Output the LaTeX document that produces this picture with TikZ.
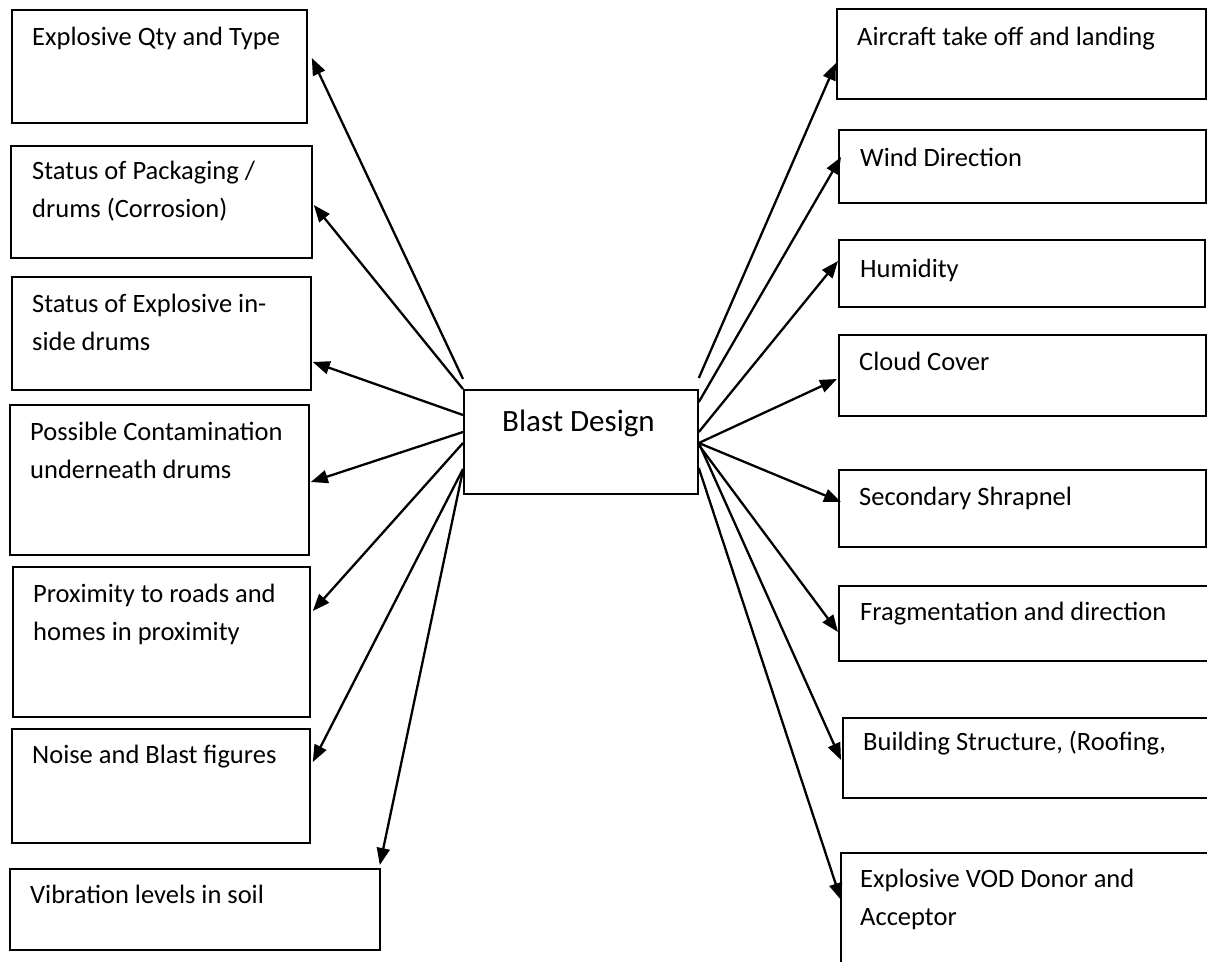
\documentclass[tikz,border=0pt]{standalone}
\usepackage{fontspec}
\setmainfont{Carlito}
\usetikzlibrary{arrows.meta,calc}

\begin{document}
\begin{tikzpicture}[x=1pt,y=-1pt,
  box/.style={draw, line width=1.8pt, rectangle, inner sep=0pt, anchor=north west},
  txt/.style={anchor=base west, inner sep=0pt, font=\fontsize{26.5}{38}\selectfont},
  link/.style={line width=2.3pt, -{Triangle[length=17pt,width=13pt]}}]

% canvas
\useasboundingbox (0,0) rectangle (1207,961);
\fill[white] (0,0) rectangle (1207,961);
\clip (0,0) rectangle (1207,961);

% central box
\node[box, minimum width=234pt, minimum height=104pt] (bd) at (463,389) {};
\node[anchor=base west, inner sep=0pt, font=\fontsize{31}{38}\selectfont] (bdt)
  at ($(bd.north west)+(39,42)$) {Blast Design};

% left column
\node[box, minimum width=295pt, minimum height=113pt] (qty)   at (11,9)   {};
\node[box, minimum width=301pt, minimum height=112pt] (pack)  at (10,145) {};
\node[box, minimum width=299pt, minimum height=113pt] (sexp)  at (11,276) {};
\node[box, minimum width=299pt, minimum height=150pt] (cont)  at (9,404)  {};
\node[box, minimum width=297pt, minimum height=150pt] (prox)  at (12,566) {};
\node[box, minimum width=298pt, minimum height=114pt] (noise) at (11,728) {};
\node[box, minimum width=370pt, minimum height=81pt]  (vib)   at (9,868)  {};

\node[txt] (qtyt)   at ($(qty.north west)+(21,36)$)   {Explosive Qty and Type};
\node[txt] (packa)  at ($(pack.north west)+(22,34)$)  {Status of Packaging /};
\node[txt] (packb)  at ($(pack.north west)+(22,72)$)  {drums (Corrosion)};
\node[txt] (sexpa)  at ($(sexp.north west)+(21,36)$)  {Status of Explosive in-};
\node[txt] (sexpb)  at ($(sexp.north west)+(21,74)$)  {side drums};
\node[txt] (conta)  at ($(cont.north west)+(21,36)$)  {Possible Contamination};
\node[txt] (contb)  at ($(cont.north west)+(21,74)$)  {underneath drums};
\node[txt] (proxa)  at ($(prox.north west)+(21,36)$)  {Proximity to roads and};
\node[txt] (proxb)  at ($(prox.north west)+(21,74)$)  {homes in proximity};
\node[txt] (noiset) at ($(noise.north west)+(21,35)$) {Noise and Blast figures};
\node[txt] (vibt)   at ($(vib.north west)+(21,35)$)   {Vibration levels in soil};

% right column
\node[box, minimum width=369pt, minimum height=90pt]  (air)   at (836,8)   {};
\node[box, minimum width=367pt, minimum height=73pt]  (wind)  at (838,129) {};
\node[box, minimum width=366pt, minimum height=67pt]  (hum)   at (838,239) {};
\node[box, minimum width=367pt, minimum height=81pt]  (cloud) at (838,334) {};
\node[box, minimum width=367pt, minimum height=77pt]  (sec)   at (838,469) {};
\node[box, minimum width=390pt, minimum height=75pt]  (frag)  at (838,585) {};
\node[box, minimum width=390pt, minimum height=80pt]  (bld)   at (842,717) {};
\node[box, minimum width=390pt, minimum height=150pt] (vod)   at (840,852) {};

\node[txt] (airt)   at ($(air.north west)+(21,37)$)   {Aircraft take off and landing};
\node[txt] (windt)  at ($(wind.north west)+(22,37)$)  {Wind Direction};
\node[txt] (humt)   at ($(hum.north west)+(22,38)$)   {Humidity};
\node[txt] (cloudt) at ($(cloud.north west)+(21,36)$) {Cloud Cover};
\node[txt] (sect)   at ($(sec.north west)+(21,36)$)   {Secondary Shrapnel};
\node[txt] (fragt)  at ($(frag.north west)+(22,35)$)  {Fragmentation and direction};
\node[txt] (bldt)   at ($(bld.north west)+(21,33)$)   {Building Structure, (Roofing,};
\node[txt] (voda)   at ($(vod.north west)+(20,35)$)   {Explosive VOD Donor and};
\node[txt] (vodb)   at ($(vod.north west)+(20,73)$)   {Acceptor};

% connectors to the left column
\draw[link] ($(bd.north west)+(0,-10)$) -- ($(qty.north east)+(4,49)$);
\draw[link] (bd.north west)             -- ($(pack.north east)+(1,60)$);
\draw[link] ($(bd.north west)+(0,26)$)  -- ($(sexp.north east)+(1,86)$);
\draw[link] ($(bd.north west)+(0,43)$)  -- ($(cont.north east)+(1,78)$);
\draw[link] ($(bd.north west)+(0,54)$)  -- ($(prox.north east)+(2,45)$);
\draw[link] ($(bd.north west)+(0,80)$)  -- ($(noise.north east)+(2,34)$);
\draw[link] ($(bd.north west)+(0,81)$)  -- ($(vib.north east)+(-1,-3)$);

% connectors to the right column
\draw[link] ($(bd.north east)+(0,-11)$) -- ($(air.north west)+(0,55)$);
\draw[link] ($(bd.north east)+(0,13)$)  -- ($(wind.north west)+(3,28)$);
\draw[link] ($(bd.north east)+(0,43)$)  -- ($(hum.north west)+(0,22)$);
\draw[link] ($(bd.north east)+(0,54)$)  -- ($(cloud.north west)+(-1,45)$);
\draw[link] ($(bd.north east)+(0,54)$)  -- ($(sec.north west)+(3,33)$);
\draw[link] ($(bd.north east)+(0,56)$)  -- ($(frag.north west)+(0,47)$);
\draw[link] ($(bd.north east)+(0,54)$)  -- ($(bld.north west)+(-1,43)$);
\draw[link] ($(bd.north east)+(0,79)$)  -- ($(vod.north west)+(1,48)$);

\end{tikzpicture}
\end{document}
